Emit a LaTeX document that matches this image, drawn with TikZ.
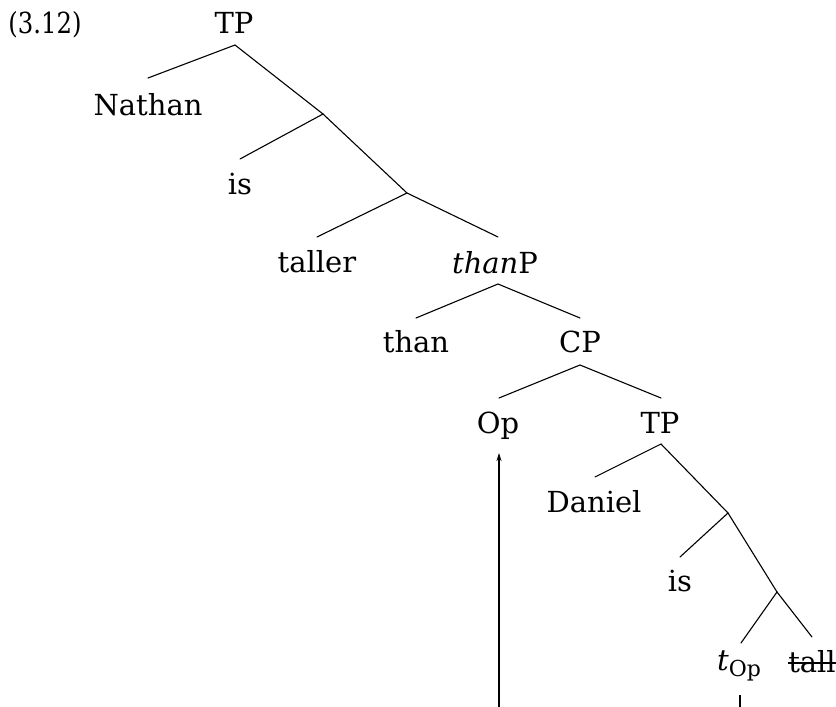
\documentclass[tikz,border=0pt]{standalone}
\usepackage{fontspec}
\setmainfont{DejaVu Serif}
\usetikzlibrary{arrows.meta}
\begin{document}
\begin{tikzpicture}[x=1pt,y=-1pt,
  lbl/.style={anchor=base,inner sep=0pt,font=\fontsize{29}{34}\selectfont},
  branch/.style={line width=1.1pt,line cap=round},
  move/.style={line width=1.1pt,-{Stealth[length=8pt,width=5pt]}}]
\useasboundingbox (0,0) rectangle (836,707);

% example number
\node[lbl] (exnum) at (45,33) {\scalebox{0.84}[1]{(3.12)}};

% labels (baseline positions)
\node[lbl] (tp)     at (234,33)  {TP};
\node[lbl] (nathan) at (148,115) {Nathan};
\node[lbl] (is1)    at (240,194) {is};
\node[lbl] (taller) at (317,272) {taller};
\node[lbl] (thanp)  at (495,273) {\itshape than\upshape P};
\node[lbl] (than)   at (416,352) {than};
\node[lbl] (cp)     at (580,352) {CP};
\node[lbl] (op)     at (498,433) {Op};
\node[lbl] (tp2)    at (660,433) {TP};
\node[lbl] (daniel) at (594,512) {Daniel};
\node[lbl] (is2)    at (680,591) {is};
\node[lbl] (trace)  at (739,670) {\itshape t\upshape\raisebox{-6pt}{\fontsize{22}{26}\selectfont Op}};
\node[lbl] (tall)   at (812,672) {tall};
\draw[line width=1.1pt] ([yshift=9pt]tall.base west) -- ([yshift=9pt]tall.base east);

% branch points and edge ends
\coordinate (tp-b)     at (235,45);
\coordinate (nathan-t) at (148,78);
\coordinate (n1)       at (323,114);
\coordinate (is1-t)    at (240,159);
\coordinate (n2)       at (407,193);
\coordinate (taller-t) at (317,237);
\coordinate (thanp-t)  at (498,237);
\coordinate (thanp-b)  at (498,284);
\coordinate (than-t)   at (416,318);
\coordinate (cp-t)     at (580,318);
\coordinate (cp-b)     at (580,365);
\coordinate (op-t)     at (499,398);
\coordinate (tp2-t)    at (661,398);
\coordinate (tp2-b)    at (661,444);
\coordinate (daniel-t) at (595,477);
\coordinate (n3)       at (728,513);
\coordinate (is2-t)    at (680,557);
\coordinate (n4)       at (777,592);
\coordinate (trace-t)  at (741,643);
\coordinate (tall-t)   at (812,637);
\coordinate (trace-b)  at (740,695);
\coordinate (trace-e)  at (740,707);
\coordinate (move-s)   at (499,707);
\coordinate (op-b)     at (499,453);

% tree edges
\draw[branch] (nathan-t) -- (tp-b) -- (n1);
\draw[branch] (is1-t) -- (n1) -- (n2);
\draw[branch] (taller-t) -- (n2) -- (thanp-t);
\draw[branch] (than-t) -- (thanp-b) -- (cp-t);
\draw[branch] (op-t) -- (cp-b) -- (tp2-t);
\draw[branch] (daniel-t) -- (tp2-b) -- (n3);
\draw[branch] (is2-t) -- (n3) -- (n4);
\draw[branch] (trace-t) -- (n4) -- (tall-t);

% movement of the operator
\draw[line width=1.1pt] (trace-b) -- (trace-e);
\draw[move] (move-s) -- (op-b);
\end{tikzpicture}
\end{document}
